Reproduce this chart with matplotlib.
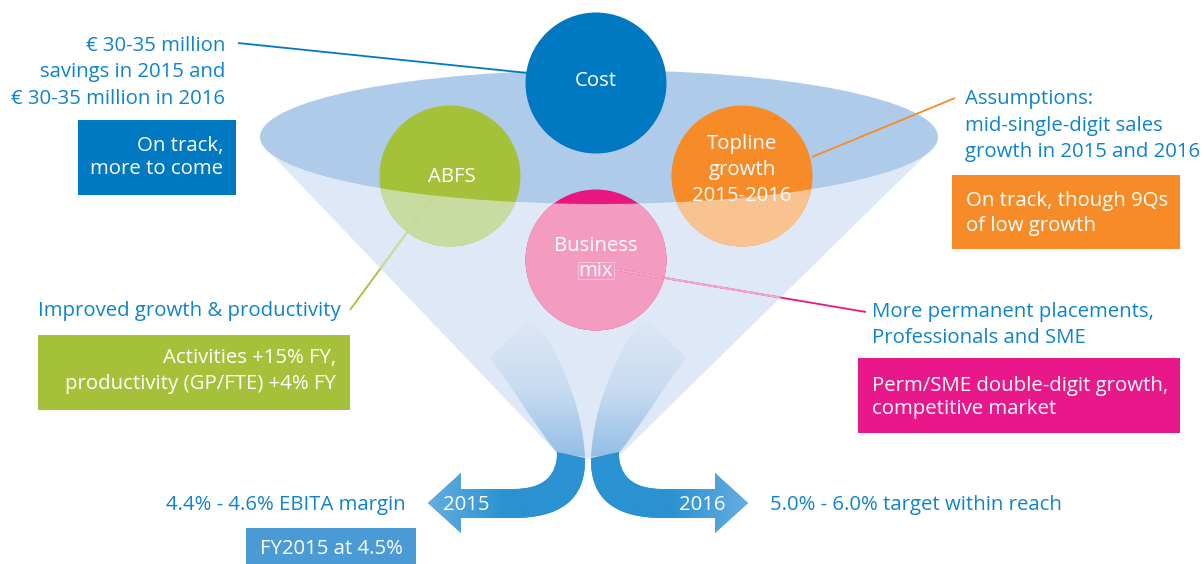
import matplotlib
matplotlib.use("Agg")
import matplotlib.pyplot as plt
import numpy as np
from matplotlib.patches import Circle, Ellipse, Polygon, Rectangle, PathPatch
from matplotlib.path import Path
from matplotlib.colors import LinearSegmentedColormap

plt.rcParams['font.family'] = ['Open Sans', 'DejaVu Sans']

# ---------------- content ----------------
circle_labels = ["Cost", "ABFS", "Topline\ngrowth\n2015-2016", "Business\nmix"]
notes = [
    "€ 30-35 million\nsavings in 2015 and\n€ 30-35 million in 2016",
    "Improved growth & productivity",
    "Assumptions:\nmid-single-digit sales\ngrowth in 2015 and 2016",
    "More permanent placements,\nProfessionals and SME",
]
statuses = [
    "On track,\nmore to come",
    "Activities +15% FY,\nproductivity (GP/FTE) +4% FY",
    "On track, though 9Qs\nof low growth",
    "Perm/SME double-digit growth,\ncompetitive market",
]
years = ["2015", "2016"]
outcome_notes = ["4.4% - 4.6% EBITA margin", "5.0% - 6.0% target within reach"]
outcome_status = "FY2015 at 4.5%"

# ---------------- styles ----------------
dark = ["#0079c2", "#a5c13a", "#f68b28", "#e8177f"]
light = ["#0079c2", "#c8dba1", "#f9c391", "#f39cc0"]
box_cols = ["#0079c2", "#a5c13a", "#f68b28", "#e8178a"]
text_blue = "#0e84cc"
ellipse_col = "#afcbea"
cone_col = "#dfe8f6"
arrow_col = "#2b92d2"

fig = plt.figure(figsize=(12.04, 5.64), dpi=100)
ax = fig.add_axes([0, 0, 1, 1])
ax.set_xlim(0, 1204)
ax.set_ylim(564, 0)
ax.axis('off')

FS = 14.7


def lines(x, y0, dy, s, ha='left', color=text_blue, size=FS, z=10):
    for i, ln in enumerate(s.split("\n")):
        ax.text(x, y0 + i * dy, ln, ha=ha, va='baseline', color=color,
                fontsize=size, zorder=z)


# ---------------- funnel ----------------
ecx, ecy, ea, eb = 599, 137, 339, 67
t = np.deg2rad(np.linspace(165, 15, 120))
arc = np.column_stack([ecx + ea * np.cos(t), ecy + eb * np.sin(t)])
bottom = np.array([[622, 453], [606, 458], [590, 459], [574, 458], [557, 453]])
face_pts = np.vstack([arc, bottom])
face = Polygon(face_pts, closed=True, facecolor=cone_col, edgecolor='none', zorder=1)
ax.add_patch(face)
ax.add_patch(Ellipse((ecx, ecy), 2 * ea, 2 * eb, facecolor=ellipse_col,
                     edgecolor='none', zorder=2))

clip_face = Polygon(face_pts, closed=True, transform=ax.transData)
ax.add_patch(clip_face)
clip_face.set_visible(False)

# swooshes with gradient (light at top, deeper blue at the funnel neck)
grad_cmap = LinearSegmentedColormap.from_list("g", [cone_col, "#c9dcf1", "#93bde6"])
swoosh_paths = [
    [(490, 357), (532, 318), (555, 345), (582, 400), (585, 457), (557, 453),
     (535, 425), (510, 385), (490, 357)],
    [(686, 357), (644, 318), (621, 345), (594, 400), (591, 457), (619, 453),
     (641, 425), (666, 385), (686, 357)],
]
codes = [Path.MOVETO, Path.LINETO, Path.CURVE4, Path.CURVE4, Path.CURVE4,
         Path.LINETO, Path.CURVE4, Path.CURVE4, Path.CURVE4]
gy = np.linspace(0, 1, 200).reshape(-1, 1)
for pts in swoosh_paths:
    pp = PathPatch(Path(pts, codes), facecolor='none', edgecolor='none', zorder=3)
    ax.add_patch(pp)
    xs = [p[0] for p in pts]
    im = ax.imshow(gy, cmap=grad_cmap, extent=(min(xs), max(xs), 460, 316),
                   origin='upper', aspect='auto', zorder=3, interpolation='bicubic')
    im.set_clip_path(pp)

# ---------------- circles ----------------
centers = [(596, 83), (450, 176), (742, 176), (596, 260)]
R = 70.5
for (cx, cy), dc in zip(centers, dark):
    ax.add_patch(Circle((cx, cy), R, facecolor=dc, edgecolor='none', zorder=4))
for (cx, cy), lc in zip(centers, light):
    c = Circle((cx, cy), R, facecolor=lc, edgecolor='none', zorder=5)
    ax.add_patch(c)
    c.set_clip_path(clip_face)

# ---------------- leader lines ----------------
leaders = [((238, 43), (528, 73)), ((433, 197), (350, 310)),
           ((812, 157), (955, 98)), ((606, 268), (866, 312))]
leader_light = [None, "#cbdd9f", None, "#f5a9ca"]
for ((x0, y0), (x1, y1)), dc, lc in zip(leaders, dark, leader_light):
    ax.plot([x0, x1], [y0, y1], color=dc, lw=1.3, zorder=6, solid_capstyle='butt')
    if lc:
        ln, = ax.plot([x0, x1], [y0, y1], color=lc, lw=1.4, zorder=7,
                      solid_capstyle='butt')
        ln.set_clip_path(clip_face)

# small artefact box around "mix"
ax.add_patch(Rectangle((578, 262), 36, 17, facecolor='none', edgecolor="#f7c3d9",
                       lw=0.7, zorder=8))

# circle labels
lines(596, 86, 26, circle_labels[0], ha='center', color='white', z=9)
lines(452, 182, 26, circle_labels[1], ha='center', color='white', z=9)
lines(742, 149, 26, circle_labels[2], ha='center', color='white', z=9)
lines(596, 251, 25, circle_labels[3], ha='center', color='white', z=9)

# ---------------- arrows ----------------
def mirror(pts):
    return [(1176 - x, y) for x, y in pts]

left_arrow = [(585, 458), (586, 500), (560, 518), (513, 518), (461, 518), (461, 533),
              (428, 503), (461, 473), (461, 489), (513, 489), (545, 489), (557, 475),
              (557, 452), (585, 458)]
acodes = [Path.MOVETO, Path.CURVE4, Path.CURVE4, Path.CURVE4, Path.LINETO, Path.LINETO,
          Path.LINETO, Path.LINETO, Path.LINETO, Path.LINETO, Path.CURVE4, Path.CURVE4,
          Path.CURVE4, Path.CLOSEPOLY]
arrow_cmap = LinearSegmentedColormap.from_list("a", ["#6cb0e2", arrow_col])
ramp = np.clip(np.linspace(0, 1, 300) * 4, 0, 1).reshape(1, -1)
for pts, g in [(left_arrow, ramp), (mirror(left_arrow), ramp[:, ::-1])]:
    ap = PathPatch(Path(pts, acodes), facecolor=arrow_col, edgecolor='none', zorder=8)
    ax.add_patch(ap)
    im = ax.imshow(g, cmap=arrow_cmap, extent=(420, 756, 540, 465), aspect='auto',
                   zorder=8.5, interpolation='bicubic')
    im.set_clip_path(ap)

ax.text(466, 510, years[0], ha='center', va='baseline', color='white', fontsize=14.7, zorder=10)
ax.text(702, 510, years[1], ha='center', va='baseline', color='white', fontsize=14.7, zorder=10)

# ---------------- annotations ----------------
# cost
lines(225, 51, 26.5, notes[0], ha='right')
ax.add_patch(Rectangle((78, 120), 158, 75, facecolor=box_cols[0], edgecolor='none', zorder=9))
lines(223, 151, 23, statuses[0], ha='right', color='white')
# ABFS
lines(38, 316, 26, notes[1], ha='left')
ax.add_patch(Rectangle((38, 335), 312, 75, facecolor=box_cols[1], edgecolor='none', zorder=9))
lines(336, 363, 26, statuses[1], ha='right', color='white')
# topline
lines(965, 104, 26.5, notes[2], ha='left')
ax.add_patch(Rectangle((952, 175), 228, 74, facecolor=box_cols[2], edgecolor='none', zorder=9))
lines(966, 206, 25, statuses[2], ha='left', color='white')
# mix
lines(872, 317, 26, notes[3], ha='left')
ax.add_patch(Rectangle((858, 358), 322, 75, facecolor=box_cols[3], edgecolor='none', zorder=9))
lines(872, 391, 23, statuses[3], ha='left', color='white')
# outcomes
lines(406, 510, 26, outcome_notes[0], ha='right')
lines(770, 510, 26, outcome_notes[1], ha='left')
ax.add_patch(Rectangle((246, 528), 170, 36, facecolor="#4a9ad6", edgecolor='none', zorder=9))
lines(331, 554, 26, outcome_status, ha='center', color='white')

fig.savefig("out.png", dpi=100)
